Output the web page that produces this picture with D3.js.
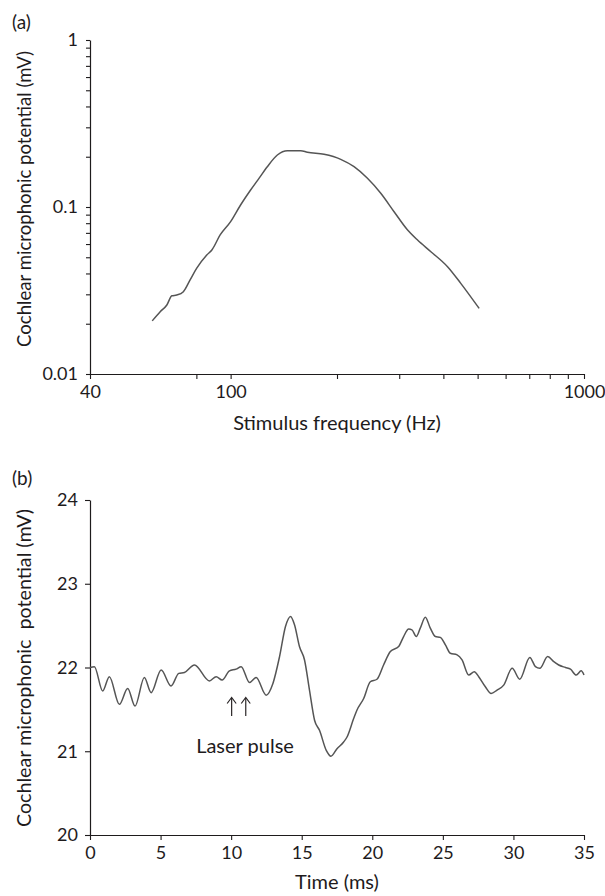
<!DOCTYPE html>
<html>
<head>
<meta charset="utf-8">
<script src="https://cdn.jsdelivr.net/npm/d3@7"></script>
<style>
  html, body { margin: 0; padding: 0; background: #fff; }
  svg { display: block; }
  text { font-family: Lato, "Open Sans", sans-serif; fill: #1e1b1c; }
</style>
</head>
<body>
<svg id="chart" width="605" height="896"></svg>
<script>
// ---------- Data: panel (a) ----------
const freqHz = [60.0, 63.2, 66.0, 68.2, 70.4, 73.5, 76.8, 80.2, 85.6, 88.5, 93.4, 100, 106.7, 113.9, 120.3, 127, 135.6, 144.7, 157.9, 164.9, 183.8, 204.9, 223.5, 243.9, 266, 290.1, 316.8, 338, 368.7, 411, 448, 505];
const cmAmplitude = [0.0208, 0.0236, 0.0259, 0.0294, 0.0297, 0.0311, 0.0366, 0.0430, 0.0516, 0.0553, 0.0680, 0.0817, 0.1028, 0.1264, 0.1485, 0.1743, 0.2048, 0.2174, 0.2174, 0.2126, 0.2068, 0.1930, 0.1743, 0.1485, 0.1208, 0.0937, 0.0728, 0.0634, 0.0540, 0.0439, 0.0349, 0.0247];
const freqTicks = [40, 80, 100, 200, 300, 400, 500, 600, 700, 800, 900, 1000];
const freqTickLabels = {40: "40", 100: "100", 1000: "1000"};
const ampTicks = [0.01, 0.02, 0.03, 0.04, 0.05, 0.06, 0.07, 0.08, 0.09, 0.1, 0.2, 0.3, 0.4, 0.5, 0.6, 0.7, 0.8, 0.9, 1];
const ampTickLabels = {0.01: "0.01", 0.1: "0.1", 1: "1"};

// ---------- Data: panel (b) ----------
const timeMs = [0.0, 0.31, 0.90, 1.37, 2.08, 2.67, 3.19, 3.85, 4.33, 5.04, 5.74, 6.29, 6.69, 7.40, 8.46, 8.94, 9.36, 9.88, 10.35, 10.71, 11.30, 11.77, 12.48, 12.96, 13.43, 13.85, 14.21, 14.49, 14.84, 15.20, 15.55, 15.91, 16.26, 16.74, 17.07, 17.50, 17.97, 18.21, 18.68, 18.91, 19.39, 19.86, 20.33, 20.80, 21.28, 21.87, 22.22, 22.58, 22.81, 23.12, 23.40, 23.76, 24.11, 24.47, 24.82, 25.18, 25.53, 26.01, 26.36, 26.83, 27.23, 27.54, 28.01, 28.42, 28.84, 29.31, 29.91, 30.45, 31.16, 31.56, 31.87, 32.43, 32.86, 33.21, 33.69, 34.04, 34.45, 34.80, 35.0];
const potential = [22.00, 22.01, 21.72, 21.89, 21.56, 21.75, 21.54, 21.88, 21.70, 21.97, 21.78, 21.93, 21.94, 22.03, 21.84, 21.89, 21.85, 21.96, 21.98, 22.01, 21.82, 21.88, 21.67, 21.81, 22.13, 22.49, 22.61, 22.51, 22.25, 22.09, 21.73, 21.37, 21.25, 21.01, 20.94, 21.03, 21.11, 21.17, 21.39, 21.49, 21.63, 21.83, 21.86, 22.03, 22.19, 22.25, 22.37, 22.46, 22.45, 22.37, 22.47, 22.60, 22.47, 22.37, 22.36, 22.27, 22.17, 22.15, 22.09, 21.91, 21.95, 21.89, 21.77, 21.69, 21.73, 21.79, 21.99, 21.86, 22.12, 22.01, 21.99, 22.13, 22.07, 22.03, 22.00, 21.98, 21.91, 21.96, 21.91];
const timeTicks = [0, 5, 10, 15, 20, 25, 30, 35];
const potTicks = [20, 21, 22, 23, 24];
const pulseTimes = [10, 11];

const svg = d3.select("#chart");
const ink = "#1e1b1c";
const lineCol = "#555";

function styleAxis(g) {
  g.select(".domain").attr("stroke", ink).attr("stroke-width", 1.2);
  g.selectAll(".tick line").attr("stroke", ink).attr("stroke-width", 1.1);
  g.selectAll(".tick text").attr("fill", ink).style("font-family", "Lato, sans-serif").style("font-size", "18px");
}

// ---------- Panel (a) ----------
const xA = d3.scaleLog().domain([40, 1000]).range([90, 584]);
const yA = d3.scaleLog().domain([0.01, 1]).range([374, 40]);

const gxA = svg.append("g").attr("transform", `translate(0,${374})`)
  .call(d3.axisBottom(xA).tickValues(freqTicks)
    .tickSize(5).tickSizeOuter(0).tickPadding(6)
    .tickFormat(d => freqTickLabels[d] || ""));
styleAxis(gxA);

const gyA = svg.append("g").attr("transform", `translate(${90},0)`)
  .call(d3.axisLeft(yA).tickValues(ampTicks)
    .tickSize(4).tickSizeOuter(0).tickPadding(8)
    .tickFormat(d => ampTickLabels[d] || ""));
styleAxis(gyA);

svg.append("path")
  .datum(freqHz.map((f, i) => [f, cmAmplitude[i]]))
  .attr("fill", "none").attr("stroke", lineCol).attr("stroke-width", 1.5)
  .attr("d", d3.line().x(d => xA(d[0])).y(d => yA(d[1])).curve(d3.curveMonotoneX));

svg.append("text").attr("x", 12).attr("y", 29).style("font-size", "19px").text("(a)");
svg.append("text").attr("text-anchor", "middle")
  .attr("transform", `translate(31,${199}) rotate(-90)`)
  .attr("textLength", 296).attr("lengthAdjust", "spacingAndGlyphs")
  .style("font-size", "19px").text("Cochlear microphonic potential (mV)");
svg.append("text").attr("x", 337).attr("y", 430).attr("text-anchor", "middle")
  .style("font-size", "20px").text("Stimulus frequency (Hz)");

// ---------- Panel (b) ----------
const xB = d3.scaleLinear().domain([0, 35]).range([90, 584]);
const yB = d3.scaleLinear().domain([20, 24]).range([835, 500]);

const gxB = svg.append("g").attr("transform", `translate(0,${835})`)
  .call(d3.axisBottom(xB).tickValues(timeTicks).tickFormat(d3.format("d"))
    .tickSize(5).tickSizeOuter(0).tickPadding(6));
styleAxis(gxB);

const gyB = svg.append("g").attr("transform", `translate(${90},0)`)
  .call(d3.axisLeft(yB).tickValues(potTicks).tickFormat(d3.format("d"))
    .tickSize(5).tickSizeOuter(0).tickPadding(7));
styleAxis(gyB);

svg.append("path")
  .datum(timeMs.map((t, i) => [t, potential[i]]))
  .attr("fill", "none").attr("stroke", lineCol).attr("stroke-width", 1.5)
  .attr("d", d3.line().x(d => xB(d[0])).y(d => yB(d[1])).curve(d3.curveMonotoneX));

// laser pulse arrows
const arrows = svg.selectAll(".pulse").data(pulseTimes).enter().append("g")
  .attr("class", "pulse")
  .attr("transform", d => `translate(${xB(d) + 0.5},0)`);
arrows.append("line").attr("x1", 0).attr("x2", 0).attr("y1", 716).attr("y2", 698)
  .attr("stroke", "#2a2627").attr("stroke-width", 1.2);
arrows.append("path").attr("d", "M-4.5,703.5 L0,697.5 L4.5,703.5")
  .attr("fill", "none").attr("stroke", "#2a2627").attr("stroke-width", 1.2);

svg.append("text").attr("x", 245).attr("y", 753).attr("text-anchor", "middle")
  .style("font-size", "20px").text("Laser pulse");

svg.append("text").attr("x", 12).attr("y", 485).style("font-size", "19px").text("(b)");
svg.append("text").attr("text-anchor", "middle")
  .attr("transform", `translate(31,${668}) rotate(-90)`)
  .attr("textLength", 318).attr("lengthAdjust", "spacingAndGlyphs")
  .style("font-size", "19px").style("white-space", "pre")
  .text("Cochlear microphonic  potential (mV)");
svg.append("text").attr("x", 337).attr("y", 889).attr("text-anchor", "middle")
  .style("font-size", "20px").text("Time (ms)");
</script>
</body>
</html>
